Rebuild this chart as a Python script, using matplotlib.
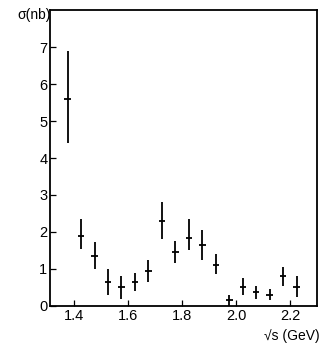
import numpy as np
import matplotlib.pyplot as plt

# sqrt(s) bin centres (GeV) and cross section (nb)
sqrt_s = [1.375, 1.425, 1.475, 1.525, 1.575, 1.625, 1.675, 1.725, 1.775,
          1.825, 1.875, 1.925, 1.975, 2.025, 2.075, 2.125, 2.175, 2.225]
sigma = [5.6, 1.9, 1.35, 0.65, 0.5, 0.65, 0.95, 2.3, 1.45,
         1.85, 1.65, 1.1, 0.15, 0.5, 0.37, 0.3, 0.8, 0.52]
err_lo = [1.2, 0.35, 0.35, 0.35, 0.3, 0.25, 0.3, 0.5, 0.3,
          0.35, 0.4, 0.25, 0.15, 0.2, 0.17, 0.15, 0.25, 0.27]
err_hi = [1.3, 0.45, 0.37, 0.35, 0.3, 0.23, 0.3, 0.5, 0.3,
          0.5, 0.4, 0.3, 0.15, 0.25, 0.18, 0.15, 0.25, 0.28]
xticks = [1.4, 1.6, 1.8, 2.0, 2.2]
xticklabels = ["1.4", "1.6", "1.8", "2.0", "2.2"]
yticks = [0, 1, 2, 3, 4, 5, 6, 7]

plt.rcParams['font.family'] = ['Liberation Sans', 'DejaVu Sans']

fig = plt.figure(figsize=(3.25, 3.5), dpi=100)
ax = fig.add_axes([0.154, 0.126, 0.821, 0.845])

ax.errorbar(sqrt_s, sigma, yerr=[err_lo, err_hi], xerr=0.012,
            fmt='none', ecolor='black', elinewidth=1.3, capsize=0)

ax.set_xlim(1.31, 2.3)
ax.set_ylim(0, 8)
ax.set_xticks(xticks)
ax.set_xticklabels(xticklabels)
ax.set_yticks(yticks)
ax.tick_params(direction='in', length=4, width=0.9, labelsize=10.5,
               colors='black', pad=2)
for s in ax.spines.values():
    s.set_linewidth(1.3)

fig.text(0.055, 0.958, "σ(nb)", fontsize=10, ha='left', va='center')
fig.text(0.985, 0.04, "√s (GeV)", fontsize=10, ha='right', va='center')

fig.savefig("out.png", dpi=100)
